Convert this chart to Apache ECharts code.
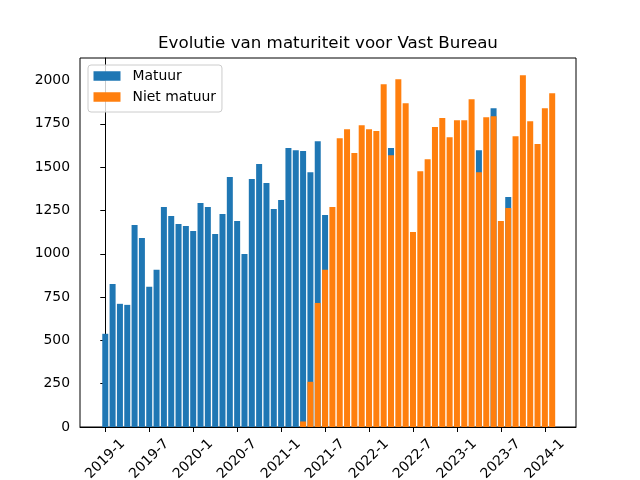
<!DOCTYPE html>
<html>
<head>
<meta charset="utf-8">
<script src="https://cdn.jsdelivr.net/npm/echarts@6/dist/echarts.min.js"></script>
<style>
html, body { margin: 0; padding: 0; background: #fff; }
#chart { width: 640px; height: 480px; }
</style>
</head>
<body>
<div id="chart"></div>
<script>
const months = [
  '2019-1','2019-2','2019-3','2019-4','2019-5','2019-6','2019-7','2019-8','2019-9','2019-10','2019-11','2019-12',
  '2020-1','2020-2','2020-3','2020-4','2020-5','2020-6','2020-7','2020-8','2020-9','2020-10','2020-11','2020-12',
  '2021-1','2021-2','2021-3','2021-4','2021-5','2021-6','2021-7','2021-8','2021-9','2021-10','2021-11','2021-12',
  '2022-1','2022-2','2022-3','2022-4','2022-5','2022-6','2022-7','2022-8','2022-9','2022-10','2022-11','2022-12',
  '2023-1','2023-2','2023-3','2023-4','2023-5','2023-6','2023-7','2023-8','2023-9','2023-10','2023-11','2023-12',
  '2024-1','2024-2'
];

const matuur = [
  538, 826, 711, 705, 1166, 1091, 809, 907, 1270, 1218, 1172, 1160,
  1131, 1293, 1270, 1114, 1229, 1443, 1189, 999, 1431, 1518, 1408, 1258,
  1310, 1610, 1598, 1593, 1471, 1650, 1224, null, null, null, null, null,
  null, null, null, 1610, null, null, null, null, null, null, null, null,
  null, null, null, 1598, null, 1840, null, 1327, null, null, null, null,
  null, null
];

const nietMatuur = [
  null, null, null, null, null, null, null, null, null, null, null, null,
  null, null, null, null, null, null, null, null, null, null, null, null,
  null, null, null, 32, 261, 716, 907, 1270, 1667, 1719, 1581, 1742,
  1719, 1708, 1979, 1569, 2007, 1869, 1126, 1477, 1546, 1731, 1783, 1673,
  1771, 1771, 1892, 1471, 1788, 1794, 1189, 1264, 1679, 2031, 1765, 1633,
  1840, 1927
];

const xTickLabels = ['2019-1','2019-7','2020-1','2020-7','2021-1','2021-7','2022-1','2022-7','2023-1','2023-7','2024-1'];
const yTickValues = [0, 250, 500, 750, 1000, 1250, 1500, 1750, 2000];

const xTickPos = xTickLabels.map(l => months.indexOf(l));
const toPairs = arr => arr.map((v, i) => [i, v]).filter(p => p[1] !== null);

const FONT = 'DejaVu Sans';
const chart = echarts.init(document.getElementById('chart'), null, { renderer: 'canvas' });

chart.setOption({
  animation: false,
  backgroundColor: '#ffffff',
  title: {
    text: 'Evolutie van maturiteit voor Vast Bureau',
    left: 328,
    top: 35,
    textAlign: 'center',
    padding: 0,
    textStyle: { fontFamily: FONT, fontSize: 16.7, fontWeight: 'normal', color: '#000' }
  },
  legend: {
    orient: 'vertical',
    left: 88,
    top: 65,
    padding: [4, 6, 8, 5.5],
    itemGap: 7,
    itemWidth: 27,
    itemHeight: 9.5,
    icon: 'rect',
    backgroundColor: 'rgba(255,255,255,0.8)',
    borderColor: '#cccccc',
    borderWidth: 1,
    borderRadius: 3,
    textStyle: { fontFamily: FONT, fontSize: 13.9, color: '#000', lineHeight: 14, padding: [0, 0, 0, 7] },
    data: ['Matuur', 'Niet matuur']
  },
  grid: {
    left: 80, right: 64, top: 58, bottom: 53,
    containLabel: false,
    outerBoundsMode: 'none',
    show: true, borderColor: '#000', borderWidth: 1, backgroundColor: 'transparent'
  },
  xAxis: {
    type: 'value',
    min: -3.45,
    max: 64.25,
    axisLine: { show: true, onZero: false, lineStyle: { color: '#000', width: 1 } },
    axisTick: { show: true, length: 5, lineStyle: { color: '#000', width: 1 }, customValues: xTickPos },
    axisLabel: {
      customValues: xTickPos,
      rotate: 45,
      align: 'center',
      verticalAlign: 'middle',
      margin: 32,
      fontFamily: FONT, fontSize: 13.9, color: '#000',
      formatter: v => months[Math.round(v)]
    },
    splitLine: { show: false }
  },
  yAxis: {
    type: 'value',
    min: 0,
    max: 2130,
    axisLine: { show: true, lineStyle: { color: '#000', width: 1 } },
    axisTick: { show: true, length: 5, lineStyle: { color: '#000', width: 1 }, customValues: yTickValues },
    axisLabel: {
      customValues: yTickValues,
      margin: 10,
      fontFamily: FONT, fontSize: 13.9, color: '#000',
      formatter: v => String(v)
    },
    splitLine: { show: false }
  },
  series: [
    {
      name: 'Matuur',
      type: 'bar',
      barWidth: 6,
      barGap: '-100%',
      itemStyle: { color: '#1f77b4' },
      data: toPairs(matuur)
    },
    {
      name: 'Niet matuur',
      type: 'bar',
      barWidth: 6,
      barGap: '-100%',
      itemStyle: { color: '#ff7f0e' },
      data: toPairs(nietMatuur)
    }
  ]
});
</script>
</body>
</html>
